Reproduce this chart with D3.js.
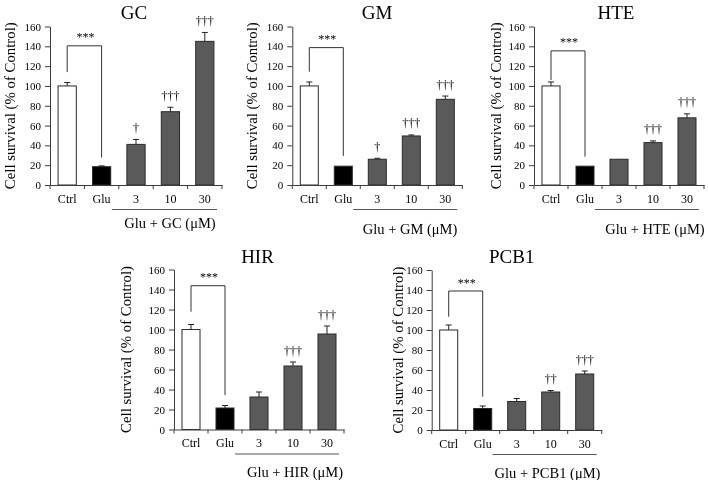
<!DOCTYPE html>
<html>
<head>
<meta charset="utf-8">
<script src="https://cdn.jsdelivr.net/npm/d3@7"></script>
<style>
  html, body { margin: 0; padding: 0; background: #fff; }
  svg { display: block; will-change: transform; }
  text { font-family: "Liberation Serif", "Times New Roman", serif; fill: #000; }
</style>
</head>
<body>
<svg id="chart" width="708" height="480"></svg>
<script>
// ---------- data ----------
const categories = ["Ctrl", "Glu", "3", "10", "30"];
const yTicks = [0, 20, 40, 60, 80, 100, 120, 140, 160];
const yLabel = "Cell survival (% of Control)";

const panelNames = ["GC", "GM", "HTE", "HIR", "PCB1"];

const gcMeans   = [100, 18.5, 41, 74, 145];
const gcErrors  = [3.4, 0.8, 5, 4.5, 9];
const gcMarks   = ["", "", "†", "†††", "†††"];
const gcBracket = [140.5, 114, 27.7];

const gmMeans   = [100, 19, 26, 49.5, 86.5];
const gmErrors  = [4, 0, 1, 1, 3.3];
const gmMarks   = ["", "", "†", "†††", "†††"];
const gmBracket = [138.7, 114.4, 29.3];

const hteMeans   = [100, 19, 26, 42.8, 67.8];
const hteErrors  = [4, 0, 0, 1.7, 4];
const hteMarks   = ["", "", "", "†††", "†††"];
const hteBracket = [135.4, 106, 28.6];

const hirMeans   = [100, 21.5, 32.5, 63.5, 95.5];
const hirErrors  = [5, 2.5, 5, 4, 8];
const hirMarks   = ["", "", "", "†††", "†††"];
const hirBracket = [143.8, 117.8, 34.5];

const pcbMeans   = [100, 21.5, 28.5, 38, 56];
const pcbErrors  = [5, 2.5, 3, 1.5, 3];
const pcbMarks   = ["", "", "", "††", "†††"];
const pcbBracket = [139, 113.3, 33.3];

const bracketStars = "***";

const seriesData = [
  { means: gcMeans,  errors: gcErrors,  marks: gcMarks,  bracket: gcBracket },
  { means: gmMeans,  errors: gmErrors,  marks: gmMarks,  bracket: gmBracket },
  { means: hteMeans, errors: hteErrors, marks: hteMarks, bracket: hteBracket },
  { means: hirMeans, errors: hirErrors, marks: hirMarks, bracket: hirBracket },
  { means: pcbMeans, errors: pcbErrors, marks: pcbMarks, bracket: pcbBracket }
];

// ---------- layout (positions / styles) ----------
const layout = [
  { x0: 50,    w: 172, yb: 185,   yt: 26.5,  titleX: 134,   titleY: 19.3,  labelOff: 40, groupX: 170,   groupOff: 43 },
  { x0: 292.3, w: 170, yb: 185,   yt: 26.5,  titleX: 377,   titleY: 19.3,  labelOff: 40, groupX: 410,   groupOff: 48.5 },
  { x0: 534,   w: 170, yb: 185,   yt: 26.5,  titleX: 616,   titleY: 19.3,  labelOff: 38, groupX: 655,   groupOff: 48.5 },
  { x0: 174,   w: 170, yb: 429.5, yt: 269.5, titleX: 257.5, titleY: 262.7, labelOff: 48, groupX: 295,   groupOff: 47.5 },
  { x0: 431.7, w: 170, yb: 430,   yt: 270,   titleX: 511.7, titleY: 262.7, labelOff: 34, groupX: 547.5, groupOff: 48 }
];
const barFills = ["#ffffff", "#000000", "#5a5a5a", "#5a5a5a", "#5a5a5a"];
const axisColor = "#3c3c3c";

const svg = d3.select("#chart");

panelNames.forEach((name, pi) => {
  const p = layout[pi];
  const s = seriesData[pi];
  const g = svg.append("g");

  const x = d3.scaleBand().domain(categories)
    .range([p.x0, p.x0 + p.w]).paddingInner(0.47).paddingOuter(0.235);
  const y = d3.scaleLinear().domain([0, 160]).range([p.yb, p.yt]);
  const step = x.step();
  const edge = c => x(c) - step * x.paddingInner() / 2;

  // bars
  g.selectAll("rect.bar").data(s.means).join("rect")
    .attr("class", "bar")
    .attr("x", (d, i) => x(categories[i]))
    .attr("y", d => y(d))
    .attr("width", x.bandwidth())
    .attr("height", d => y(0) - y(d))
    .attr("fill", (d, i) => barFills[i])
    .attr("stroke", "#2a2a2a")
    .attr("stroke-width", 1);

  // error bars (upper only)
  s.means.forEach((m, i) => {
    const e = s.errors[i];
    if (e <= 0) return;
    const cx = x(categories[i]) + x.bandwidth() / 2;
    g.append("line").attr("x1", cx).attr("x2", cx)
      .attr("y1", y(m)).attr("y2", y(m + e))
      .attr("stroke", "#222").attr("stroke-width", 1);
    g.append("line").attr("x1", cx - 3).attr("x2", cx + 3)
      .attr("y1", y(m + e)).attr("y2", y(m + e))
      .attr("stroke", "#222").attr("stroke-width", 1);
  });

  // significance daggers
  s.marks.forEach((mk, i) => {
    if (!mk) return;
    const cx = x(categories[i]) + x.bandwidth() / 2;
    g.append("text").attr("x", cx).attr("y", y(s.means[i] + s.errors[i]) - 7.5)
      .attr("text-anchor", "middle").attr("font-size", 12).text(mk);
  });

  // bracket Ctrl vs Glu
  const cx0 = x(categories[0]) + x.bandwidth() / 2;
  const cx1 = x(categories[1]) + x.bandwidth() / 2;
  const [bt, bl, br] = s.bracket;
  g.append("path")
    .attr("d", `M${cx0},${y(bl)}V${y(bt)}H${cx1}V${y(br)}`)
    .attr("fill", "none").attr("stroke", "#333").attr("stroke-width", 1);
  g.append("text").attr("x", (cx0 + cx1) / 2 + 1).attr("y", y(bt) - 4.5)
    .attr("text-anchor", "middle").attr("font-size", 12).text(bracketStars);

  // y axis
  const ya = g.append("g").attr("transform", `translate(${p.x0},0)`)
    .call(d3.axisLeft(y).tickValues(yTicks).tickSize(5).tickSizeOuter(0).tickPadding(4));
  ya.selectAll("text").attr("font-size", 11).style("font-family", '"Liberation Serif", serif');
  ya.selectAll("line, path").attr("stroke", axisColor);

  // x axis
  const xa = g.append("g").attr("transform", `translate(0,${p.yb})`)
    .call(d3.axisBottom(x).tickSize(0).tickSizeOuter(0).tickPadding(9));
  xa.selectAll("text").attr("font-size", 12).style("font-family", '"Liberation Serif", serif');
  xa.select("path").attr("stroke", axisColor);
  const edges = categories.map(edge).concat([edge(categories[4]) + step]);
  g.selectAll("line.edge").data(edges).join("line")
    .attr("class", "edge")
    .attr("x1", d => d).attr("x2", d => d)
    .attr("y1", p.yb).attr("y2", p.yb + 4)
    .attr("stroke", axisColor).attr("stroke-width", 1);

  // group underline and label
  g.append("line")
    .attr("x1", edge(categories[2]) - 7).attr("x2", edges[5] - 5)
    .attr("y1", p.yb + 24.5).attr("y2", p.yb + 24.5)
    .attr("stroke", "#555").attr("stroke-width", 1);
  g.append("text").attr("x", p.groupX).attr("y", p.yb + p.groupOff)
    .attr("text-anchor", "middle").attr("font-size", 14.5)
    .text(`Glu + ${name} (μM)`);

  // title
  g.append("text").attr("x", p.titleX).attr("y", p.titleY)
    .attr("text-anchor", "middle").attr("font-size", 19).text(name);

  // y label
  g.append("text")
    .attr("transform", `translate(${p.x0 - p.labelOff},${(p.yb + p.yt) / 2}) rotate(-90)`)
    .attr("dy", "0.35em")
    .attr("text-anchor", "middle").attr("font-size", 14.8).text(yLabel);
});
</script>
</body>
</html>
